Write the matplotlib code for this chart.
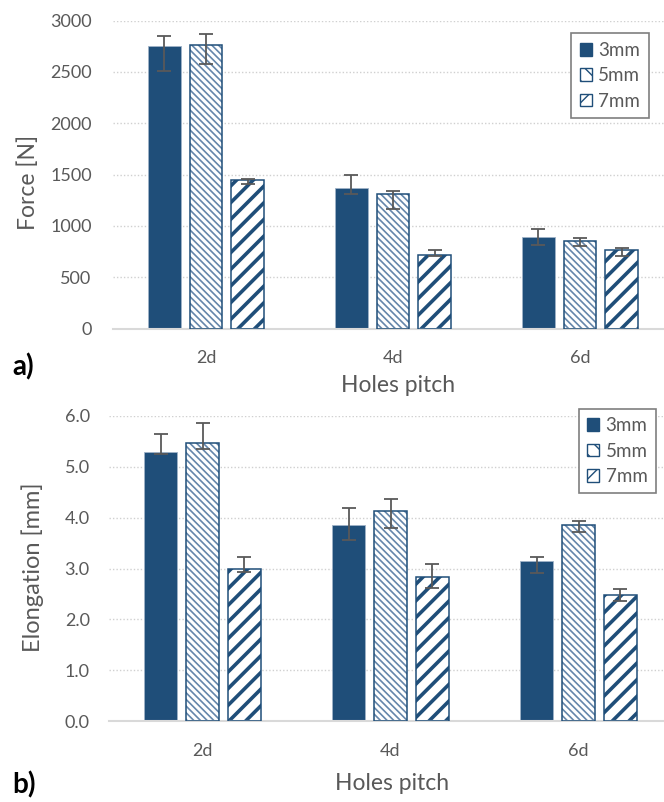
import numpy as np
import matplotlib.pyplot as plt
from matplotlib.patches import Patch

# data
pitch = ['2d', '4d', '6d']
series = ['3mm', '5mm', '7mm']

force = {'3mm': [2755, 1372, 890], '5mm': [2765, 1314, 848], '7mm': [1444, 718, 764]}
force_lo = {'3mm': [2508, 1311, 816], '5mm': [2580, 1168, 803], '7mm': [1405, 702, 702]}
force_hi = {'3mm': [2849, 1495, 974], '5mm': [2865, 1340, 877], '7mm': [1455, 764, 780]}

elong = {'3mm': [5.29, 3.86, 3.14], '5mm': [5.46, 4.14, 3.85], '7mm': [3.00, 2.83, 2.48]}
elong_lo = {'3mm': [5.25, 3.56, 2.92], '5mm': [5.35, 3.79, 3.71], '7mm': [2.94, 2.62, 2.37]}
elong_hi = {'3mm': [5.65, 4.19, 3.22], '5mm': [5.86, 4.37, 3.94], '7mm': [3.23, 3.08, 2.59]}

blue = '#1F4E79'
grey = '#595959'
plt.rcParams['font.family'] = ['Lato', 'DejaVu Sans']

styles = {
    '3mm': dict(face=blue, hatch=None, hcol=None, hlw=0),
    '5mm': dict(face='white', hatch='\\\\\\\\\\', hcol='#6586AB', hlw=1.2),
    '7mm': dict(face='white', hatch='//', hcol=blue, hlw=2.6),
}


def draw_bars(ax, p, x, vals, lo, hi, width):
    st = styles[p]
    vals = np.array(vals)
    err = [vals - np.array(lo), np.array(hi) - vals]
    if st['hatch'] is None:
        ax.bar(x, vals, width, color=st['face'], edgecolor='#9FB3C8', linewidth=0.6, zorder=2)
    else:
        with plt.rc_context({'hatch.linewidth': st['hlw'], 'hatch.color': st['hcol']}):
            bars = ax.bar(x, vals, width, color=st['face'], edgecolor=st['hcol'],
                          hatch=st['hatch'], linewidth=0, zorder=2)
            for b in bars:
                if hasattr(b, 'set_hatch_linewidth'):
                    b.set_hatch_linewidth(st['hlw'])
        ax.bar(x, vals, width, fill=False, edgecolor=blue, linewidth=1.1, zorder=3)
    ax.errorbar(x, vals, yerr=err, fmt='none', ecolor=grey, elinewidth=1.3,
                capsize=5, capthick=1.3, zorder=4)


def make_handles():
    hs = []
    for p in series:
        st = styles[p]
        if st['hatch'] is None:
            hs.append(Patch(facecolor=blue, edgecolor=blue, label=p))
        else:
            hs.append(Patch(facecolor='white', edgecolor=blue, hatch=st['hatch'][:2],
                            linewidth=1, label=p))
    return hs


def style_axis(ax, ypad):
    for s in ['top', 'right', 'left']:
        ax.spines[s].set_visible(False)
    ax.spines['bottom'].set_color('#D9D9D9')
    ax.spines['bottom'].set_linewidth(1.5)
    ax.yaxis.grid(True, linestyle=(0, (1, 1.5)), color='#D0D0D0', linewidth=1)
    ax.set_axisbelow(True)
    ax.tick_params(axis='both', length=0, labelcolor=grey, labelsize=13)
    ax.tick_params(axis='y', pad=ypad)
    ax.tick_params(axis='x', pad=15.5)
    ax.set_xlim(-0.5, 2.5)


fig = plt.figure(figsize=(6.64, 8.02), dpi=100)
W, H = 664, 802
ax1 = fig.add_axes([112.5 / W, 1 - 328.5 / H, 561 / W, 308 / H])
ax2 = fig.add_axes([108.5 / W, 1 - 721 / H, 564 / W, 305 / H])

x = np.arange(len(pitch))
step = 0.222
width = 0.176

for i, p in enumerate(series):
    draw_bars(ax1, p, x + (i - 1) * step, force[p], force_lo[p], force_hi[p], width)
    draw_bars(ax2, p, x + (i - 1) * step, elong[p], elong_lo[p], elong_hi[p], width)

style_axis(ax1, 15)
style_axis(ax2, 13.5)
ax1.set_ylim(0, 3000)
ax1.set_yticks(np.arange(0, 3001, 500))
ax2.set_ylim(0, 6)
ax2.set_yticks(np.arange(0, 6.01, 1))
ax2.set_yticklabels([f'{v:.1f}' for v in np.arange(0, 6.01, 1)])
for ax in (ax1, ax2):
    ax.set_xticks(x)
    ax.set_xticklabels(pitch)

for ax, anchor in ((ax1, (0.956, 0.958)), (ax2, (0.971, 1.024))):
    leg = ax.legend(handles=make_handles(), loc='upper right', bbox_to_anchor=anchor,
                    fontsize=13.5, handlelength=0.65, handleheight=0.65, handletextpad=0.35,
                    labelspacing=0.45, borderpad=0.45, fancybox=False, framealpha=1,
                    edgecolor='#7F7F7F', borderaxespad=0)
    leg.get_frame().set_linewidth(1.2)
    for t in leg.get_texts():
        t.set_color(grey)

fig.text(28 / W, 1 - 182 / H, 'Force [N]', rotation=90, ha='center', va='center',
         fontsize=16.5, color=grey)
fig.text(33 / W, 1 - 567 / H, 'Elongation [mm]', rotation=90, ha='center', va='center',
         fontsize=17, color=grey)
fig.text(398 / W, 1 - 386 / H, 'Holes pitch', ha='center', va='center', fontsize=16.5, color=grey)
fig.text(392 / W, 1 - 784 / H, 'Holes pitch', ha='center', va='center', fontsize=16.5, color=grey)
fig.text(12 / W, 1 - 367 / H, 'a)', ha='left', va='center', fontsize=20, fontweight='bold')
fig.text(12 / W, 1 - 785 / H, 'b)', ha='left', va='center', fontsize=20, fontweight='bold')

fig.savefig('out.png', dpi=100)
